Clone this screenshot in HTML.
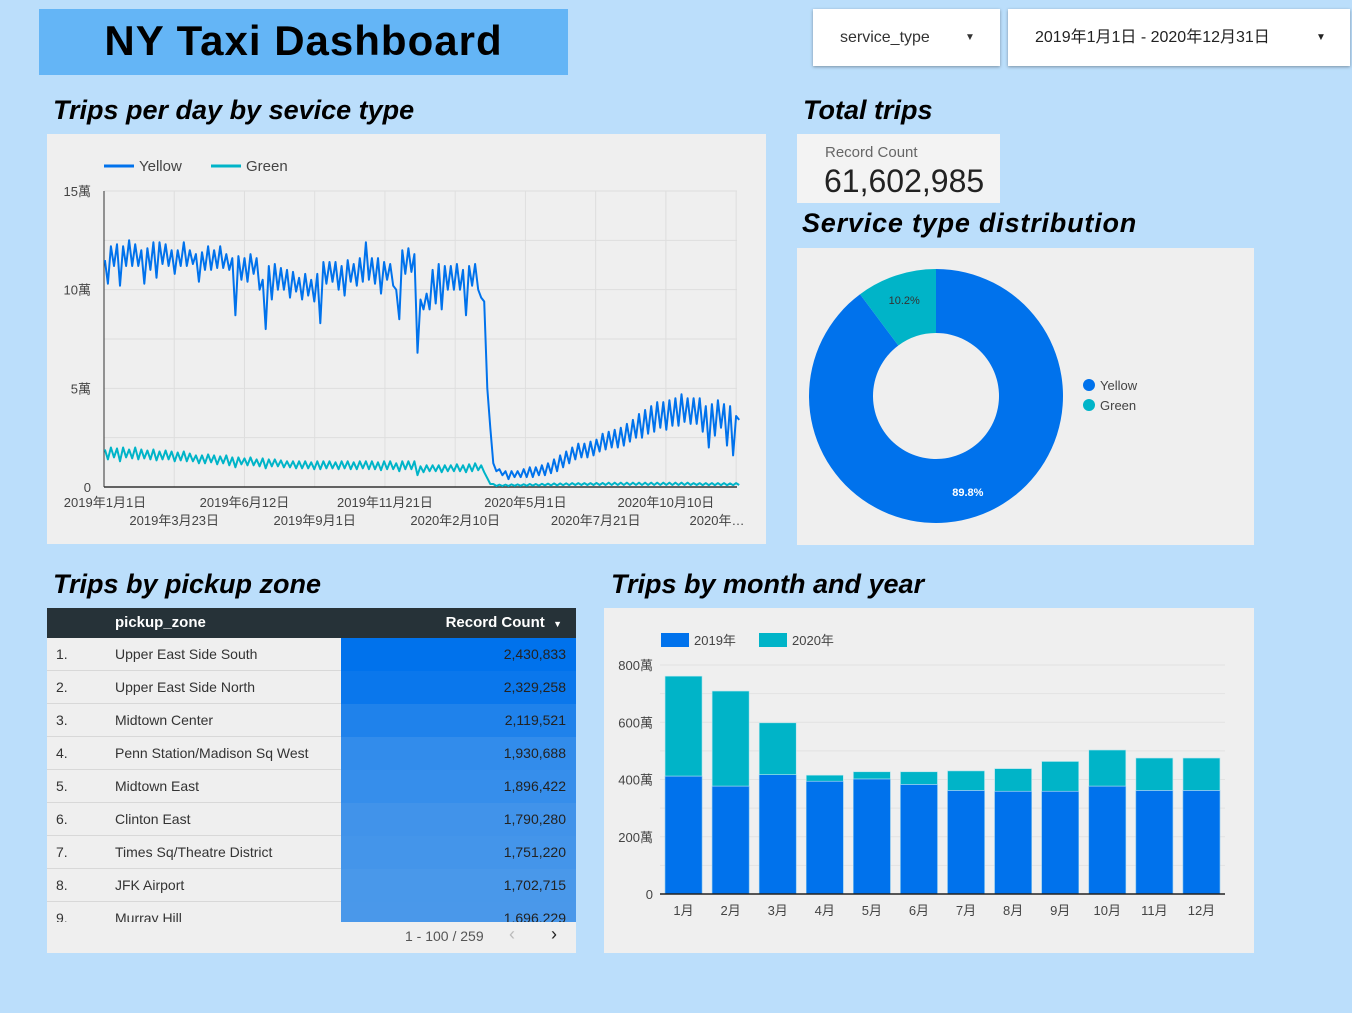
<!DOCTYPE html>
<html><head><meta charset="utf-8">
<style>
body{margin:0;width:1352px;height:1013px;background:#bbdefb;font-family:"Liberation Sans","Noto Sans CJK JP",sans-serif;position:relative;overflow:hidden}
.abs{position:absolute}
.h{position:absolute;font-weight:bold;font-style:italic;font-size:27px;color:#000;margin:0}
.panel{position:absolute;background:#efefef}
table{border-collapse:collapse}
</style></head><body>
<div class="abs" style="left:39px;top:9px;width:529px;height:66px;background:#64b5f6"></div>
<div class="abs" style="left:39px;top:17px;width:529px;text-align:center;font-size:42px;font-weight:bold;color:#000;letter-spacing:1px">NY Taxi Dashboard</div>

<div class="abs" style="left:813px;top:9px;width:187px;height:57px;background:#fff;box-shadow:0 1px 3px rgba(0,0,0,.35);font-size:16px;color:#333;line-height:57px"><span style="position:absolute;left:27px">service_type</span><span style="position:absolute;left:152px;font-size:10px">▼</span></div>
<div class="abs" style="left:1008px;top:9px;width:342px;height:57px;background:#fff;box-shadow:0 1px 3px rgba(0,0,0,.35);font-size:16px;color:#222;line-height:57px"><span style="position:absolute;left:27px">2019年1月1日 - 2020年12月31日</span><span style="position:absolute;left:308px;font-size:10px">▼</span></div>

<h2 class="h" style="left:53px;top:95px">Trips per day by sevice type</h2>
<h2 class="h" style="left:803px;top:95px">Total trips</h2>
<h2 class="h" style="left:802px;top:208px;letter-spacing:0.8px">Service type distribution</h2>
<h2 class="h" style="left:53px;top:569px">Trips by pickup zone</h2>
<h2 class="h" style="left:611px;top:569px">Trips by month and year</h2>

<div class="panel" style="left:797px;top:134px;width:203px;height:69px;background:#f3f3f3">
 <div class="abs" style="left:28px;top:10px;font-size:15px;color:#666">Record Count</div>
 <div class="abs" style="left:27px;top:29px;font-size:32px;color:#222">61,602,985</div>
</div>

<div class="panel" style="left:47px;top:134px;width:719px;height:410px">
<svg id="lc" width="719" height="410" style="position:absolute;left:0;top:0"></svg></div>

<div class="panel" style="left:797px;top:248px;width:457px;height:297px">
<svg id="pc" width="457" height="297" style="position:absolute;left:0;top:0"></svg></div>

<div class="panel" style="left:604px;top:608px;width:650px;height:345px">
<svg id="bc" width="650" height="345" style="position:absolute;left:0;top:0"></svg></div>

<div class="panel" style="left:47px;top:608px;width:529px;height:345px;overflow:hidden">
 <div class="abs" style="left:0;top:0;width:529px;height:30px;background:#263238;color:#fff;font-weight:bold;font-size:15px;line-height:30px">
  <span class="abs" style="left:68px">pickup_zone</span>
  <span class="abs" style="right:14px">Record Count&nbsp; <span style="font-size:9px">▼</span></span>
 </div>
 <div id="rows" class="abs" style="left:0;top:30px;width:529px;height:284px;overflow:hidden"></div>
 <div class="abs" style="left:358px;top:320px;font-size:14px;color:#555">1 - 100 / 259</div>
 <div class="abs" style="left:462px;top:316px;font-size:18px;color:#bbb">&#8249;</div>
 <div class="abs" style="left:504px;top:316px;font-size:18px;color:#222">&#8250;</div>
</div>

<script>
const NS='http://www.w3.org/2000/svg';
function mk(p,t,a){const e=document.createElementNS(NS,t);for(const k in a)e.setAttribute(k,a[k]);p.appendChild(e);return e;}

/* ---------- line chart data (weekly high/low, 萬) ---------- */
const yellowHi=[11.5,12.2,12.3,12.2,12.5,12.3,12.0,12.1,12.4,12.4,12.3,12.0,12.0,12.4,12.0,11.8,11.9,12.2,12.0,12.2,11.8,11.6,11.7,11.6,11.8,11.6,10.5,11.2,11.3,11.1,11.0,10.9,10.6,10.8,10.5,10.8,11.4,11.4,11.4,11.2,11.5,11.3,11.6,12.4,11.6,11.6,11.4,11.3,10.0,12.0,12.1,11.8,9.5,9.8,11.0,11.3,11.2,11.2,11.3,11.0,11.2,11.3,9.6,5.0,1.2,0.9,0.8,0.8,0.8,0.9,1.0,1.0,1.1,1.2,1.4,1.6,1.8,2.0,2.2,2.2,2.3,2.4,2.7,2.8,2.9,3.0,3.2,3.4,3.7,3.9,4.1,4.3,4.3,4.4,4.5,4.7,4.5,4.5,4.5,4.1,4.2,4.4,4.2,4.1,3.6];
const yellowLo=[10.3,11.2,10.2,11.2,11.2,11.2,10.3,11.0,10.6,11.3,11.2,10.8,11.2,11.2,11.3,10.4,11.0,11.0,11.1,11.1,11.0,8.7,10.5,10.4,10.8,10.0,8.0,9.5,10.0,10.0,9.6,9.9,9.5,9.7,9.4,8.3,10.3,10.4,10.0,9.7,10.4,10.2,10.4,10.5,10.3,9.8,10.5,10.2,8.5,10.8,10.9,6.8,9.0,9.0,9.3,9.0,10.0,10.0,10.0,8.7,10.2,10.0,9.4,3.0,0.8,0.6,0.4,0.5,0.5,0.5,0.5,0.6,0.6,0.7,0.8,1.0,1.2,1.4,1.5,1.5,1.6,1.8,1.9,2.0,2.0,2.1,2.3,2.5,2.5,2.7,2.8,3.0,2.9,3.1,3.1,3.3,3.2,3.2,2.8,2.0,2.6,3.0,2.1,1.6,3.4];
const greenHi=[1.9,2.0,1.95,2.0,1.9,2.0,1.9,1.85,1.9,1.8,1.85,1.8,1.75,1.8,1.7,1.6,1.6,1.65,1.6,1.55,1.6,1.5,1.5,1.45,1.5,1.4,1.45,1.4,1.4,1.35,1.3,1.3,1.3,1.3,1.25,1.3,1.3,1.3,1.25,1.3,1.3,1.25,1.3,1.3,1.3,1.25,1.3,1.3,1.2,1.3,1.3,1.3,1.05,1.1,1.1,1.1,1.1,1.1,1.15,1.1,1.15,1.2,1.1,0.45,0.15,0.12,0.12,0.13,0.13,0.14,0.15,0.15,0.16,0.17,0.18,0.18,0.19,0.2,0.2,0.2,0.2,0.21,0.21,0.22,0.22,0.22,0.22,0.22,0.22,0.22,0.22,0.22,0.22,0.22,0.22,0.22,0.22,0.2,0.2,0.2,0.2,0.2,0.2,0.18,0.2];
const greenLo=[1.4,1.5,1.3,1.5,1.45,1.4,1.45,1.4,1.35,1.4,1.4,1.3,1.35,1.3,1.3,1.2,1.2,1.25,1.15,1.2,1.1,1.0,1.15,1.1,1.1,1.05,0.95,1.05,1.05,1.0,1.0,0.95,0.95,0.95,0.9,0.9,0.95,0.95,0.9,0.95,0.9,0.9,0.95,0.9,0.9,0.85,0.9,0.9,0.8,0.9,0.9,0.6,0.75,0.8,0.8,0.75,0.8,0.8,0.8,0.75,0.8,0.85,0.75,0.15,0.05,0.05,0.05,0.06,0.06,0.06,0.07,0.07,0.08,0.08,0.08,0.09,0.09,0.1,0.1,0.1,0.1,0.1,0.1,0.1,0.1,0.1,0.1,0.1,0.1,0.1,0.1,0.1,0.1,0.1,0.1,0.1,0.1,0.1,0.09,0.09,0.09,0.09,0.09,0.09,0.1];
const yTicks=[0,5,10,15];
const yTickLabels=['0','5萬','10萬','15萬'];
const xTickDays=[0,81,162,243,324,405,486,567,648,729];
const xTickLabels=['2019年1月1日','2019年3月23日','2019年6月12日','2019年9月1日','2019年11月21日','2020年2月10日','2020年5月1日','2020年7月21日','2020年10月10日','2020年…'];

(function(){
 const s=document.getElementById('lc');
 const X0=57,X1=690,Y0=353,Ytop=57,ND=730,VMAX=15;
 const xs=d=>X0+(X1-X0)*d/ND, ys=v=>Y0-(Y0-Ytop)*v/VMAX;
 for(let v=0;v<=15;v+=2.5){mk(s,'line',{x1:X0,x2:X1,y1:ys(v),y2:ys(v),stroke:'#dedede','stroke-width':1});}
 xTickDays.forEach(d=>mk(s,'line',{x1:xs(d),x2:xs(d),y1:Ytop,y2:Y0,stroke:'#dedede'}));
 yTicks.forEach((v,i)=>{const t=mk(s,'text',{x:X0-13,y:ys(v)+5,'text-anchor':'end','font-size':13,fill:'#444'});t.textContent=yTickLabels[i];
  
  });
 xTickDays.forEach((d,i)=>{const t=mk(s,'text',{x:Math.min(xs(d),X1-20),y:i%2?391:373,'text-anchor':'middle','font-size':13,fill:'#444'});t.textContent=xTickLabels[i];
  if(i==0)t.setAttribute('x',X0+1);
  
  });
 mk(s,'line',{x1:X0,x2:X0,y1:Ytop,y2:Y0,stroke:'#333'});
 mk(s,'line',{x1:X0,x2:X1,y1:Y0,y2:Y0,stroke:'#333','stroke-width':1.5});
 function series(hi,lo,color,name){
  let pts=[];
  hi.forEach((h,w)=>{pts.push([xs(w*7+1),ys(h)]);pts.push([xs(w*7+4.5),ys(lo[w])]);});
  const p=mk(s,'polyline',{points:pts.map(p=>p[0].toFixed(1)+','+p[1].toFixed(1)).join(' '),fill:'none',stroke:color,'stroke-width':2,'stroke-linejoin':'round'});
  
  
 }
 series(greenHi,greenLo,'#00b4c8','green-line');
 series(yellowHi,yellowLo,'#0072ec','yellow-line');
 const lg=[['Yellow','#0072ec',57],['Green','#00b4c8',164]];
 lg.forEach(l=>{mk(s,'line',{x1:l[2],x2:l[2]+30,y1:32,y2:32,stroke:l[1],'stroke-width':3});const t=mk(s,'text',{x:l[2]+35,y:37,'font-size':15,fill:'#444'});t.textContent=l[0];
  
  });
})();

/* ---------- pie ---------- */
const pieLabels=['Yellow','Green'];
const pieValues=[89.8,10.2];
const pieColors=['#0072ec','#00b4c8'];
(function(){
 const s=document.getElementById('pc');
 const cx=139,cy=148,R=127,r=63;
 const tot=pieValues.reduce((a,b)=>a+b,0);let a0=0;
 pieValues.forEach((v,i)=>{
  const a1=a0+v/tot*2*Math.PI;
  const P=(rad,a)=>[cx+rad*Math.sin(a),cy-rad*Math.cos(a)];
  const [x1,y1]=P(R,a0),[x2,y2]=P(R,a1),[x3,y3]=P(r,a1),[x4,y4]=P(r,a0);const lf=(a1-a0)>Math.PI?1:0;
  const p=mk(s,'path',{d:`M${x1},${y1}A${R},${R} 0 ${lf} 1 ${x2},${y2}L${x3},${y3}A${r},${r} 0 ${lf} 0 ${x4},${y4}Z`,fill:pieColors[i]});
  
  
  const am=(a0+a1)/2;const [lx,ly]=P(101,am);
  const t=mk(s,'text',{x:lx,y:ly+4,'text-anchor':'middle','font-size':11,fill:i==0?'#fff':'#333','font-weight':i==0?'bold':'normal'});t.textContent=v.toFixed(1)+'%';
  
  
  a0=a1;
 });
 pieLabels.forEach((l,i)=>{mk(s,'circle',{cx:292,cy:137+20*i,r:6,fill:pieColors[i]});const t=mk(s,'text',{x:303,y:142+20*i,'font-size':13,fill:'#444'});t.textContent=l;
  
  });
})();

/* ---------- bar chart (萬) ---------- */
const months=['1月','2月','3月','4月','5月','6月','7月','8月','9月','10月','11月','12月'];
const trips2019=[412,377,417,394,402,383,362,359,359,377,362,362];
const trips2020=[349,332,181,21,25,44,68,79,104,126,113,113];
const barTicks=[0,200,400,600,800];
const barTickLabels=['0','200萬','400萬','600萬','800萬'];
(function(){
 const s=document.getElementById('bc');
 const X0=56,X1=621,Y0=286,Ytop=57,VMAX=800;
 const ys=v=>Y0-(Y0-Ytop)*v/VMAX;const slot=(X1-X0)/months.length,bw=37;
 for(let v=100;v<=800;v+=100)mk(s,'line',{x1:X0,x2:X1,y1:ys(v),y2:ys(v),stroke:'#e2e2e2'});
 barTicks.forEach((v,i)=>{const t=mk(s,'text',{x:49,y:ys(v)+5,'text-anchor':'end','font-size':13,fill:'#444'});t.textContent=barTickLabels[i];
  
  });
 months.forEach((m,i)=>{
  const x=X0+slot*i+(slot-bw)/2;
  const a=trips2019[i],b=trips2020[i];
  const r1=mk(s,'rect',{x:x,y:ys(a),width:bw,height:Y0-ys(a),fill:'#0072ec',stroke:'#7fc4f0','stroke-width':0.6});
  
  
  const r2=mk(s,'rect',{x:x,y:ys(a+b),width:bw,height:ys(a)-ys(a+b),fill:'#00b4c8',stroke:'#b5e6ee','stroke-width':0.6});
  
  
  const t=mk(s,'text',{x:x+bw/2,y:307,'text-anchor':'middle','font-size':13,fill:'#444'});t.textContent=m;
  
  
 });
 mk(s,'line',{x1:X0,x2:X1,y1:Y0,y2:Y0,stroke:'#222','stroke-width':1.5});
 [['2019年','#0072ec',57],['2020年','#00b4c8',155]].forEach(l=>{mk(s,'rect',{x:l[2],y:25,width:28,height:14,fill:l[1]});const t=mk(s,'text',{x:l[2]+33,y:37,'font-size':13,fill:'#444'});t.textContent=l[0];
  
  });
})();

/* ---------- table ---------- */
const zones=['Upper East Side South','Upper East Side North','Midtown Center','Penn Station/Madison Sq West','Midtown East','Clinton East','Times Sq/Theatre District','JFK Airport','Murray Hill'];
const zoneCounts=[2430833,2329258,2119521,1930688,1896422,1790280,1751220,1702715,1696229];
(function(){
 const c=document.getElementById('rows');
 const max=zoneCounts[0],min=zoneCounts[zoneCounts.length-1];
 zones.forEach((z,i)=>{
  const r=document.createElement('div');
  
  
  r.style.cssText=`position:absolute;left:0;top:${i*33}px;width:529px;height:32px;border-bottom:1px solid #d8d8d8;font-size:14px;color:#333;line-height:32px`;
  const f=(max-zoneCounts[i])/(max-min);
  const col=`rgb(${Math.round(0+f*74)},${Math.round(114+f*38)},${Math.round(236-f*2)})`;
  r.innerHTML=`<span style="position:absolute;left:9px">${i+1}.</span><span style="position:absolute;left:68px">${z}</span><div style="position:absolute;left:294px;top:0;width:235px;height:33px;background:${col}"></div><span style="position:absolute;right:10px;color:#222">${zoneCounts[i].toLocaleString('en-US')}</span>`;
  c.appendChild(r);
 });
})();
</script>
</body></html>
